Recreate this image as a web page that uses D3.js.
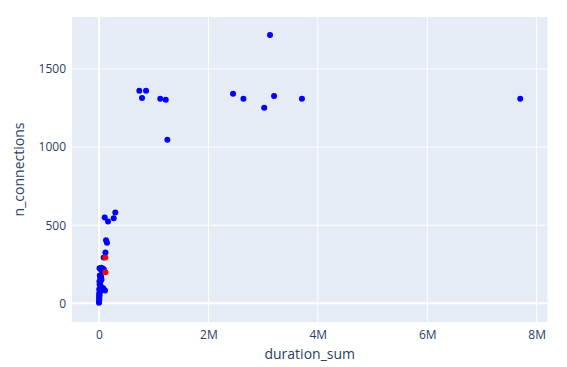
<!DOCTYPE html>
<html>
<head>
<meta charset="utf-8">
<script src="https://cdn.jsdelivr.net/npm/d3@7"></script>
<style>
body { margin: 0; background: #fff; }
text { font-family: "Open Sans", "Noto Sans", sans-serif; fill: #2a3f5f; }
</style>
</head>
<body>
<svg id="chart" width="567" height="367"></svg>
<script>
const blueDuration = [737000, 860000, 786000, 1120000, 1220000, 1250000,
  2450000, 2640000, 3020000, 3200000, 3710000, 7700000, 3126000,
  104000, 165000, 268000, 298000,
  128000, 146000, 118000, 86000,
  40000, 70000, 90000, 10000, 30000, 55000,
  15000, 40000, 25000, 8000, 20000, 60000, 80000, 110000, 75000, 30000, 12000,
  5000, 18000, 4000, 10000, 2000, 6000, 3000, 1000, 500, 8000, 15000, 45000];
const blueConnections = [1361, 1361, 1314, 1310, 1303, 1047,
  1342, 1310, 1252, 1327, 1310, 1310, 1718,
  549, 524, 545, 581,
  404, 387, 325, 293,
  228, 222, 214, 224, 218, 205,
  178, 170, 160, 140, 135, 100, 95, 82, 85, 110, 120,
  90, 75, 60, 50, 40, 30, 20, 10, 3, 65, 85, 150];
const redDuration = [115000, 118000];
const redConnections = [293, 198];
const xTicks = [0, 2000000, 4000000, 6000000, 8000000];
const yTicks = [0, 500, 1000, 1500];

const svg = d3.select("#chart");
const L = 72, R = 547.5, T = 17, B = 322;
const x = d3.scaleLinear().domain([-493500, 8198000]).range([L, R]);
const y = d3.scaleLinear().domain([-120, 1833]).range([B, T]);

svg.append("rect").attr("x", L).attr("y", T).attr("width", R - L).attr("height", B - T).attr("fill", "#E5ECF6");

const g = svg.append("g");
g.selectAll(".vg").data(xTicks).join("line")
  .attr("x1", d => x(d)).attr("x2", d => x(d)).attr("y1", T).attr("y2", B)
  .attr("stroke", "#fff").attr("stroke-width", d => d === 0 ? 2 : 1);
g.selectAll(".hg").data(yTicks).join("line")
  .attr("y1", d => y(d)).attr("y2", d => y(d)).attr("x1", L).attr("x2", R)
  .attr("stroke", "#fff").attr("stroke-width", d => d === 0 ? 2 : 1);

const xAxis = d3.axisBottom(x).tickValues(xTicks).tickSize(0).tickPadding(8)
  .tickFormat(d => d === 0 ? "0" : d3.format("~s")(d));
const xa = svg.append("g").attr("transform", `translate(0,${B})`).call(xAxis);
xa.select(".domain").remove();
xa.selectAll("text").attr("font-size", 12).attr("fill", "#2a3f5f").attr("font-family", "Open Sans");

const yAxis = d3.axisLeft(y).tickValues(yTicks).tickSize(0).tickPadding(6).tickFormat(d3.format("d"));
const ya = svg.append("g").attr("transform", `translate(${L},0)`).call(yAxis);
ya.select(".domain").remove();
ya.selectAll("text").attr("font-size", 12).attr("fill", "#2a3f5f").attr("font-family", "Open Sans");

const blue = blueDuration.map((d, i) => [d, blueConnections[i]]);
const red = redDuration.map((d, i) => [d, redConnections[i]]);

svg.append("g").selectAll("circle").data(blue).join("circle")
  .attr("cx", d => x(d[0])).attr("cy", d => y(d[1])).attr("r", 3).attr("fill", "#0000ff");
svg.append("g").selectAll("circle").data(red).join("circle")
  .attr("cx", d => x(d[0])).attr("cy", d => y(d[1])).attr("r", 3).attr("fill", "#ff0000");

svg.append("text").attr("x", (L + R) / 2).attr("y", 359).attr("text-anchor", "middle")
  .attr("font-size", 14).text("duration_sum");
svg.append("text").attr("transform", `translate(24,${(T + B) / 2}) rotate(-90)`).attr("text-anchor", "middle")
  .attr("font-size", 14).text("n_connections");
</script>
</body>
</html>
